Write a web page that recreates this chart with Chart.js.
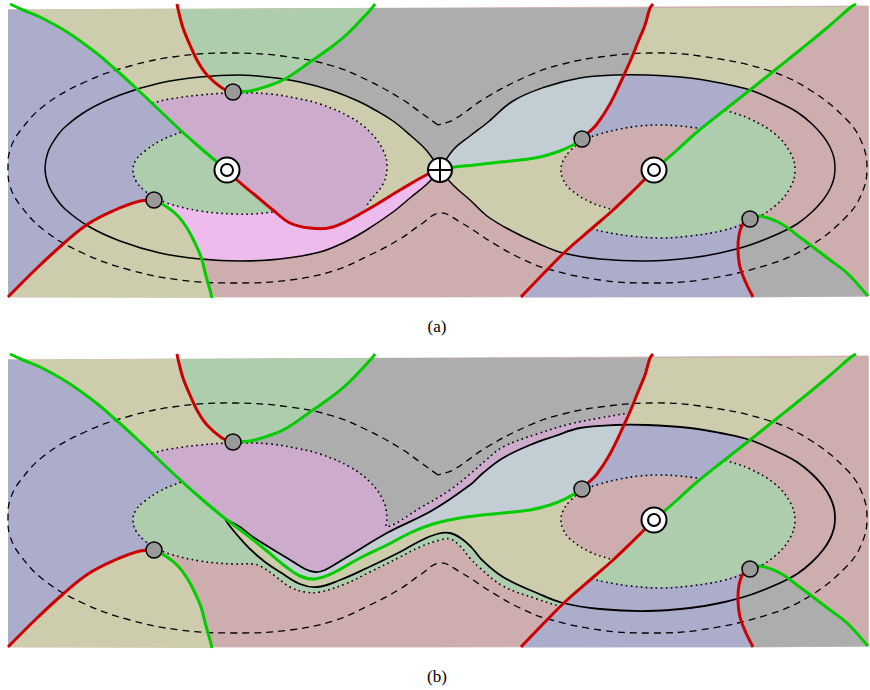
<!DOCTYPE html>
<html>
<head>
<meta charset="utf-8">
<script src="https://cdn.jsdelivr.net/npm/chart.js@4.4.1/dist/chart.umd.min.js"></script>
<style>
  body { margin: 0; background: #fff; width: 870px; height: 690px; position: relative; overflow: hidden; }
  canvas { position: absolute; left: 0; }
  #panelA { top: 0; }
  #panelB { top: 350px; }
  .lab { position: absolute; left: 2px; width: 870px; text-align: center; color: #000;
         font-family: "Liberation Serif", "DejaVu Serif", serif; font-size: 17px; }
</style>
</head>
<body>
<canvas id="panelA" width="870" height="300"></canvas>
<div class="lab" style="top:317px">(a)</div>
<canvas id="panelB" width="870" height="300"></canvas>
<div class="lab" style="top:667px">(b)</div>
<script>
// all points are [x, y] in panel pixels (y grows downwards)
const frame = [[8,10],[440,8],[868,6],[868,296],[440,297],[8,297]];

// red / green curves
const greenDiagL = [[10,4],[23,10],[40,17],[67,32],[95,52],[115,69],[137,89],[157,108],[177,127],[197,145],[217,162],[227,170]];
const redTopL = [[177,4],[178,9],[183,28],[190,45],[198,62],[207,75],[222,88],[233,92]];
const greenUpL = [[233,92],[250,91],[268,86],[285,79],[310,62],[330,48],[345,36],[360,21],[372,8],[375,4]];
const redBotL = [[154,200],[140,201],[115,210],[88,224],[62,245],[35,270],[8,297]];
const greenDownL = [[154,200],[167,207],[178,216],[187,228],[195,243],[201,257],[206,276],[210,290],[212,298]];
const redA = [[227,170],[237,180],[255,195],[273,210],[290,223],[310,228],[333,227],[367,210],[400,190],[430,173],[440,170]];
const greenA = [[582,139],[573,145],[560,151],[540,157],[520,160],[500,162],[475,165],[455,167],[440,170]];
const greenB = [[582,139],[574,144],[565,149],[550,155],[530,160],[503,163],[460,168],[433,174],[410,183],[387,195],[360,208],[333,223],[315,229],[300,226],[285,216],[267,201],[247,185],[227,170]];
const redTopR = [[653,4],[650,8],[645,25],[638,42],[632,57],[624,75],[610,104],[597,124],[588,133],[582,139]];
const greenDiagR = [[654,170],[676,151],[697,132],[722,112],[750,90],[775,70],[800,50],[828,27],[851,7],[856,4]];
const redDiagR = [[654,170],[633,191],[612,211],[590,230],[567,250],[545,272],[521,297]];
const redBotR = [[750,219],[743,224],[739,235],[738,250],[740,267],[746,283],[753,297]];
const greenBotR = [[750,219],[760,216],[780,223],[797,235],[813,247],[830,260],[847,273],[868,296]];

// solid level curves
const solidLeftA = [[440,170],[427,151],[410,135],[393,121],[375,110],[360,102],[333,91],[300,82],[267,77],[240,75],[200,77],[160,83],[120,95],[88,110],[65,127],[55,139],[48,152],[45,168],[48,184],[55,197],[65,209],[88,226],[120,241],[160,253],[200,259],[240,261],[280,259],[320,252],[345,242],[365,231],[393,212],[410,198],[427,184],[440,170]];
const rightTopA = [[440,170],[453,150],[470,136],[487,123],[513,101],[545,87]];
const rightCore = [[580,78],[615,75],[647,75],[690,78],[720,83],[750,90],[780,103],[797,112],[812,124],[823,136],[830,147],[834,158],[835,168],[834,178],[830,189],[823,200],[812,212],[797,224],[780,233],[750,245],[720,253],[690,258],[647,261],[600,259],[563,253],[537,243]];
const rightBotA = [[510,230],[487,216],[470,200],[453,185],[440,170]];
const hairUpper = [[225,169],[240,177],[253,187],[287,208],[305,219],[315,222],[325,220],[347,207],[387,183],[433,160],[470,135],[483,123],[503,108],[530,95],[555,86]];
const hairLower = [[503,227],[482,210],[472,198],[462,189],[450,183],[437,184],[420,191],[400,202],[367,218],[340,230],[317,237],[300,234],[280,222],[265,212],[250,199],[238,186],[229,175],[225,169]];

// dashed outer curve
const dashedLoop = [[438,125],[420,112],[400,98],[367,80],[333,66],[290,57],[235,53],[180,56],[130,66],[85,82],[45,105],[20,131],[10,150],[8,168],[10,186],[20,205],[45,231],[85,254],[130,270],[180,280],[235,283],[290,280],[333,271],[370,255],[400,239],[420,225],[440,213],[460,222],[493,243],[520,258],[548,269],[600,280],[650,283],[700,280],[767,265],[810,246],[847,216],[862,193],[867,168],[862,143],[847,120],[810,90],[767,70],[700,56],[650,53],[600,57],[563,64],[530,75],[487,97],[453,120],[438,125]];

// dotted curves
const leftSmallArc = [[181,132],[160,141],[145,151],[136,160],[133,170],[136,181],[145,191],[154,197],[170,204],[200,211],[233,214],[253,214]];
const leftSmallFill = [[133,170],[136,160],[145,150],[160,141],[180,133],[200,129],[240,126],[280,129],[300,134],[320,141],[335,150],[344,160],[347,170],[344,180],[335,190],[320,199],[300,206],[280,211],[240,214],[200,211],[170,204],[154,197],[145,190],[136,180]];
const purpleArc = [[152,103],[170,99],[200,95],[233,93],[270,94],[300,99],[320,104],[350,117],[370,132],[383,150],[387,167],[383,184],[370,201],[366,207]];
const bandDot = [[387,177],[420,158],[450,140],[470,124],[485,111],[503,97],[537,84],[570,74],[600,68],[629,63]];
const stripDot = [[253,213],[262,217],[275,226],[290,237],[305,242],[320,242],[345,234],[370,222],[400,207],[420,197],[440,190],[450,189],[460,196],[470,208],[480,218],[503,236],[537,249],[562,257]];
const pinkSmallArc = [[697,128],[680,126],[660,125],[640,126],[620,129],[600,134],[582,141],[570,151],[563,161],[561,170],[563,179],[570,189],[590,202],[610,209]];
const pinkSmallFill = [[561,170],[563,161],[570,151],[590,138],[620,129],[660,125],[700,129],[730,138],[750,151],[757,161],[759,170],[757,179],[750,189],[730,202],[700,211],[660,215],[620,211],[590,202],[570,189],[563,179]];
const greenLargeArc = [[725,110],[750,119],[775,134],[790,152],[795,170],[790,188],[775,206],[750,221],[725,230],[690,236],[660,238],[630,236],[605,232],[592,229]];

// markers
const dots = [[233,92],[154,200],[582,139],[750,219]];
const ringsA = [[227,170],[654,170]];
const ringsB = [[654,170]];
const saddleA = [[440,170]];

const C = {
  pinkbrown: '#cdadad', khaki: '#cdcdad', gray: '#adadad', green: '#adcdad',
  blue: '#acadcb', purple: '#cdabcd', lightblue: '#c2ced3', pink: '#edbced',
  red: '#cc0000', lime: '#00cc00'
};

const R = a => a.slice().reverse();
const P = pts => pts.map(([x, y]) => ({x, y}));

function area(pts, color) {
  return { data: P(pts), backgroundColor: color, borderColor: color, borderWidth: 0.8,
           fill: 'shape', tension: 0, pointRadius: 0 };
}
function stroke(pts, color, width, dash) {
  return { data: P(pts), borderColor: color, borderWidth: width, borderDash: dash || [],
           fill: false, tension: 0.4, pointRadius: 0, borderJoinStyle: 'round' };
}
function marks(pts, r, bg, bw, style) {
  return { data: P(pts), showLine: false, pointRadius: r, pointBackgroundColor: bg,
           pointBorderColor: '#000', pointBorderWidth: bw, pointStyle: style || 'circle' };
}

// regions shared by both panels
const khakiBot = R(redBotL).concat(greenDownL.slice(1));
const greenTop = redTopL.slice(1).concat(greenUpL.slice(1, 9));
const blueL = [[8,10]].concat(greenDiagL.slice(1), [[154,200]], redBotL.slice(1));
const khakiTR = redTopR.slice(1, 6).concat(rightCore.slice(2, 6), greenDiagR.slice(5, 9));
const greenSector = [[654,170]].concat(greenDiagR.slice(1, 4), greenLargeArc, R(redDiagR.slice(1, 3)));
const blueUR = [[624,75]].concat(rightCore.slice(2, 6), R(greenDiagR.slice(2, 4)), pinkSmallArc.slice(0, 7), R(redTopR.slice(6, 9)));
const blueLR = redDiagR.slice(4).concat(R(redBotR), greenLargeArc.slice(8));
const grayBR = greenBotR.concat(R(redBotR));

// panel (a) regions
const khakiTopA = [[8,10]].concat(redTopL.slice(1), greenUpL.slice(1, 4), R(solidLeftA.slice(0, 8)), R(redA), [[154,200]], redBotL.slice(1));
const grayA = [[372,8]].concat(R(greenUpL.slice(3, 8)), R(solidLeftA.slice(0, 8)), rightTopA.slice(1), rightCore.slice(0, 2), [[624,75]], R(redTopR.slice(1, 5)));
const pinkA = greenDownL.slice(0, 6).concat(solidLeftA.slice(25), R(redA));
const purpleA = purpleArc.concat(R(redA.slice(0, 8)), R(greenDiagL.slice(7, 11)));
const lightBlueA = rightTopA.concat(rightCore.slice(0, 2), [[624,75]], redTopR.slice(6), greenA.slice(1));
const khakiRA = R(greenA).concat([[654,170]], redDiagR.slice(1, 5), [[564,253],[537,243]], rightBotA);

// panel (b) regions
const khakiTopB = [[8,10]].concat(redTopL.slice(1), [[152,103],[8,200]]);
const grayB = [[372,8]].concat(R(greenUpL.slice(0, 8)), purpleArc.slice(4, 11), bandDot, R(redTopR.slice(1, 5)));
const stripGreen = R(hairLower).concat([[537,243],[563,253],[562,257]], R(stripDot));
const purpleB = purpleArc.slice(0, 11).concat(bandDot, [[624,75]], R(rightCore.slice(0, 2)), R(hairUpper), R(greenDiagL.slice(7, 12)));
const lightBlueB = hairUpper.concat(rightCore.slice(0, 2), [[624,75]], redTopR.slice(6), greenB.slice(1));
const khakiRB = R(greenB).concat([[654,170]], redDiagR.slice(1, 5), [[564,253],[537,243]], hairLower);

const DOT = [1.6, 3.4], DASH = [7, 5];

const layersA = [
  area(frame, C.pinkbrown),
  area(khakiTopA, C.khaki),
  area(khakiBot, C.khaki),
  area(grayA, C.gray),
  area(greenTop, C.green),
  area(blueL, C.blue),
  area(pinkA, C.pink),
  area(leftSmallFill, C.green),
  area(purpleA, C.purple),
  area(khakiTR, C.khaki),
  area(lightBlueA, C.lightblue),
  area(khakiRA, C.khaki),
  area(pinkSmallFill, C.pinkbrown),
  area(greenSector, C.green),
  area(blueUR, C.blue),
  area(blueLR, C.blue),
  area(grayBR, C.gray),
  stroke(leftSmallArc.concat([[273,212]]), '#000', 1.6, DOT),
  stroke(purpleArc, '#000', 1.6, DOT),
  stroke(pinkSmallArc, '#000', 1.6, DOT),
  stroke(greenLargeArc, '#000', 1.6, DOT),
  stroke(dashedLoop, '#000', 1.3, DASH),
  stroke(solidLeftA, '#000', 1.5),
  stroke(rightTopA.concat(rightCore, rightBotA), '#000', 1.5),
  stroke(redTopL, C.red, 3), stroke(redBotL, C.red, 3), stroke(redA, C.red, 3),
  stroke(redTopR, C.red, 3), stroke(redDiagR, C.red, 3), stroke(redBotR, C.red, 3),
  stroke(greenDiagL, C.lime, 3), stroke(greenUpL, C.lime, 3), stroke(greenDownL, C.lime, 3),
  stroke(greenA, C.lime, 3), stroke(greenDiagR, C.lime, 3), stroke(greenBotR, C.lime, 3),
  marks(dots, 8, '#999999', 1.5),
  marks(ringsA, 12.5, '#ffffff', 2),
  marks(ringsA, 6, '#ffffff', 2),
  marks(saddleA, 12, '#ffffff', 2),
  marks(saddleA, 12, '#ffffff', 2, 'cross')
];

const layersB = [
  area(frame, C.pinkbrown),
  area(khakiTopB, C.khaki),
  area(khakiBot, C.khaki),
  area(grayB, C.gray),
  area(greenTop, C.green),
  area(blueL, C.blue),
  area(leftSmallFill, C.green),
  area(stripGreen, C.green),
  area(purpleB, C.purple),
  area(lightBlueB, C.lightblue),
  area(khakiRB, C.khaki),
  area(khakiTR, C.khaki),
  area(pinkSmallFill, C.pinkbrown),
  area(greenSector, C.green),
  area(blueUR, C.blue),
  area(blueLR, C.blue),
  area(grayBR, C.gray),
  stroke(leftSmallArc.concat(stripDot.slice(1)), '#000', 1.6, DOT),
  stroke(purpleArc.slice(0, 11).concat(bandDot), '#000', 1.6, DOT),
  stroke(pinkSmallArc, '#000', 1.6, DOT),
  stroke(greenLargeArc, '#000', 1.6, DOT),
  stroke(dashedLoop, '#000', 1.3, DASH),
  stroke(hairUpper.concat(rightCore, hairLower), '#000', 1.8),
  stroke(redTopL, C.red, 3), stroke(redBotL, C.red, 3),
  stroke(redTopR, C.red, 3), stroke(redDiagR, C.red, 3), stroke(redBotR, C.red, 3),
  stroke(greenDiagL, C.lime, 3), stroke(greenUpL, C.lime, 3), stroke(greenDownL, C.lime, 3),
  stroke(greenB, C.lime, 3), stroke(greenDiagR, C.lime, 3), stroke(greenBotR, C.lime, 3),
  marks(dots, 8, '#999999', 1.5),
  marks(ringsB, 12.5, '#ffffff', 2),
  marks(ringsB, 6, '#ffffff', 2)
];

function draw(id, layers) {
  // first layer in the list is painted first
  const n = layers.length;
  layers.forEach((d, i) => { d.order = n - i; });
  new Chart(document.getElementById(id), {
    type: 'line',
    data: { datasets: layers },
    options: {
      responsive: false,
      animation: false,
      events: [],
      layout: { padding: 0, autoPadding: false },
      plugins: { legend: { display: false }, tooltip: { enabled: false } },
      scales: {
        x: { type: 'linear', min: 0, max: 870, display: false },
        y: { type: 'linear', min: 0, max: 300, reverse: true, display: false }
      }
    }
  });
}

draw('panelA', layersA);
draw('panelB', layersB);
</script>
</body>
</html>
